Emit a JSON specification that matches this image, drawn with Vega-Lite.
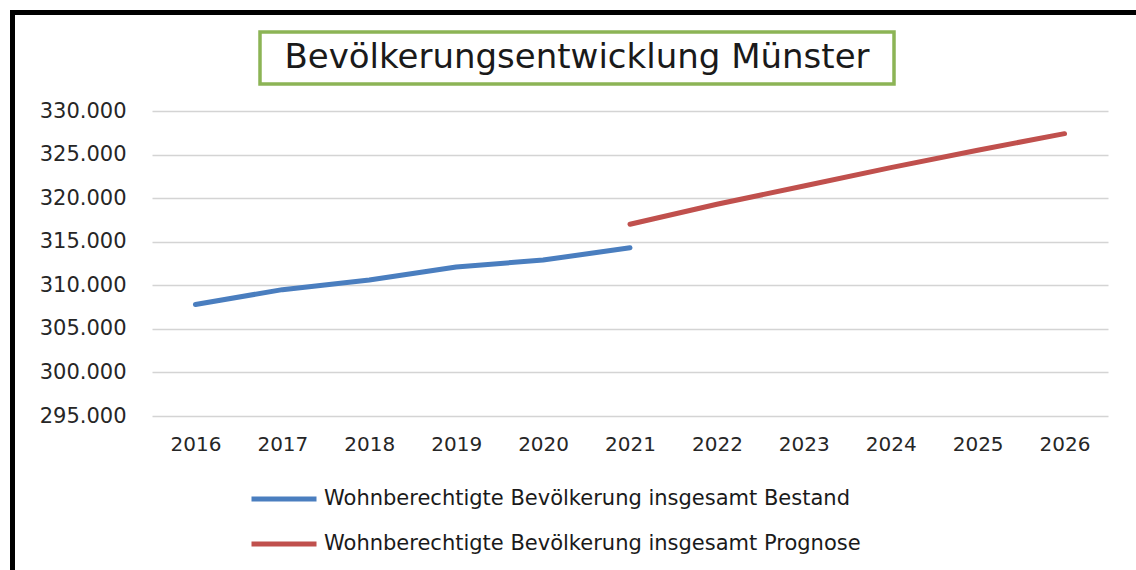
{
  "$schema": "https://vega.github.io/schema/vega-lite/v6.json",
  "background": "white",
  "padding": {"left": 10, "top": 10, "right": 0, "bottom": 0},
  "config": {"font": "DejaVu Sans"},
  "spacing": 0,
  "center": false,
  "vconcat": [
    {
      "width": 1200,
      "height": 5,
      "view": {"fill": "black", "stroke": null},
      "data": {"values": []},
      "mark": "rect",
      "encoding": {}
    },
    {
      "spacing": 24,
      "hconcat": [
        {
          "width": 5,
          "height": 600,
          "view": {"fill": "black", "stroke": null},
          "data": {"values": []},
          "mark": "rect",
          "encoding": {}
        },
        {
          "spacing": 14,
          "center": false,
          "vconcat": [
            {
              "width": 10,
              "height": 1,
              "view": {"stroke": null},
              "data": {"values": []},
              "mark": "rect",
              "encoding": {}
            },
            {
              "spacing": 0,
              "hconcat": [
                {
                  "width": 106,
                  "height": 52,
                  "view": {"stroke": null},
                  "data": {"values": []},
                  "mark": "rect",
                  "encoding": {}
                },
                {
                  "width": 634,
                  "height": 52,
                  "view": {"stroke": "#8cb455", "strokeWidth": 3.5, "fill": "white"},
                  "data": {"values": [{"label": "Bevölkerungsentwicklung Münster"}]},
                  "mark": {"type": "text", "font": "DejaVu Sans", "fontSize": 34, "color": "#1a1a1a"},
                  "encoding": {"text": {"field": "label", "type": "nominal"}}
                }
              ]
            },
            {
              "width": 956,
              "height": 305,
              "view": {"stroke": null},
              "data": {
                "values": [
                  {"year": "2016", "value": 307800, "series": "Wohnberechtigte Bevölkerung insgesamt Bestand"},
                  {"year": "2017", "value": 309500, "series": "Wohnberechtigte Bevölkerung insgesamt Bestand"},
                  {"year": "2018", "value": 310600, "series": "Wohnberechtigte Bevölkerung insgesamt Bestand"},
                  {"year": "2019", "value": 312100, "series": "Wohnberechtigte Bevölkerung insgesamt Bestand"},
                  {"year": "2020", "value": 312900, "series": "Wohnberechtigte Bevölkerung insgesamt Bestand"},
                  {"year": "2021", "value": 314300, "series": "Wohnberechtigte Bevölkerung insgesamt Bestand"},
                  {"year": "2021", "value": 317000, "series": "Wohnberechtigte Bevölkerung insgesamt Prognose"},
                  {"year": "2022", "value": 319300, "series": "Wohnberechtigte Bevölkerung insgesamt Prognose"},
                  {"year": "2023", "value": 321400, "series": "Wohnberechtigte Bevölkerung insgesamt Prognose"},
                  {"year": "2024", "value": 323500, "series": "Wohnberechtigte Bevölkerung insgesamt Prognose"},
                  {"year": "2025", "value": 325500, "series": "Wohnberechtigte Bevölkerung insgesamt Prognose"},
                  {"year": "2026", "value": 327400, "series": "Wohnberechtigte Bevölkerung insgesamt Prognose"}
                ]
              },
              "mark": {"type": "line", "strokeWidth": 5, "strokeCap": "round", "strokeJoin": "round"},
              "encoding": {
                "x": {
                  "field": "year",
                  "type": "ordinal",
                  "scale": {"domain": ["2016","2017","2018","2019","2020","2021","2022","2023","2024","2025","2026"], "padding": 0.5},
                  "axis": {
                    "title": null,
                    "labelAngle": 0,
                    "labelFont": "DejaVu Sans",
                    "labelFontSize": 20,
                    "labelColor": "#262626",
                    "labelPadding": 18,
                    "ticks": false,
                    "tickSize": 0,
                    "domain": false,
                    "grid": false
                  }
                },
                "y": {
                  "field": "value",
                  "type": "quantitative",
                  "scale": {"domain": [295000, 330000], "nice": false, "zero": false},
                  "axis": {
                    "title": null,
                    "values": [295000, 300000, 305000, 310000, 315000, 320000, 325000, 330000],
                    "labelExpr": "replace(format(datum.value, ','), ',', '.')",
                    "labelFont": "DejaVu Sans",
                    "labelFontSize": 21,
                    "labelColor": "#262626",
                    "labelPadding": 26,
                    "ticks": false,
                    "tickSize": 0,
                    "domain": false,
                    "grid": true,
                    "gridColor": "#d4d4d4",
                    "gridWidth": 1.5
                  }
                },
                "color": {
                  "field": "series",
                  "type": "nominal",
                  "scale": {
                    "domain": ["Wohnberechtigte Bevölkerung insgesamt Bestand", "Wohnberechtigte Bevölkerung insgesamt Prognose"],
                    "range": ["#4a7ebf", "#c0504d"]
                  },
                  "legend": {
                    "title": null,
                    "orient": "none",
                    "legendX": 239,
                    "legendY": 454,
                    "direction": "vertical",
                    "symbolType": "stroke",
                    "symbolSize": 4225,
                    "symbolStrokeWidth": 5,
                    "labelFont": "DejaVu Sans",
                    "labelFontSize": 21,
                    "labelColor": "#1a1a1a",
                    "labelOffset": 5,
                    "labelLimit": 0,
                    "rowPadding": -19
                  }
                }
              }
            }
          ]
        }
      ]
    }
  ]
}
